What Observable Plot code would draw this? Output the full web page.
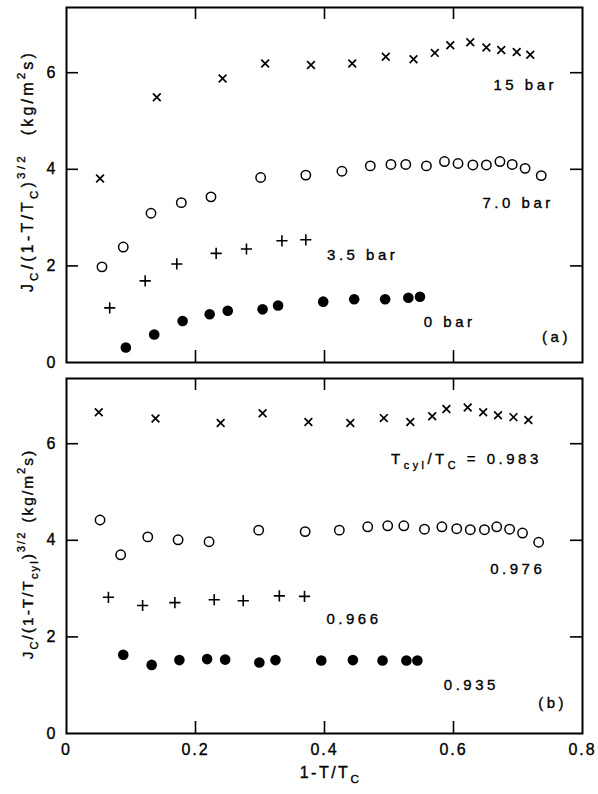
<!DOCTYPE html>
<html><head><meta charset="utf-8">
<script src="https://cdn.jsdelivr.net/npm/d3@7"></script>
<script src="https://cdn.jsdelivr.net/npm/@observablehq/plot@0.6"></script>
<style>
body{margin:0;background:#fff;}
#chart{width:598px;}
#chart svg{display:block;}
#chart svg text{letter-spacing:2px;stroke:black;stroke-width:0.35px;}
#chart svg text.lab{letter-spacing:3.5px;}
</style></head><body><div id="chart"></div>
<script>
// ---------- data: panel (a), J_c/(1-T/T_c)^{3/2} vs 1-T/T_c ----------
const a15x = [0.052,0.140,0.242,0.308,0.379,0.443,0.495,0.538,0.571,0.595,0.626,0.651,0.674,0.698,0.719];
const a15y = [3.81,5.49,5.88,6.19,6.16,6.19,6.33,6.28,6.41,6.57,6.63,6.52,6.47,6.43,6.37];
const a7x  = [0.055,0.088,0.131,0.178,0.224,0.301,0.371,0.427,0.471,0.503,0.526,0.558,0.586,0.607,0.630,0.651,0.672,0.691,0.711,0.736];
const a7y  = [1.98,2.39,3.09,3.31,3.43,3.83,3.88,3.96,4.07,4.10,4.10,4.07,4.16,4.12,4.09,4.09,4.16,4.10,4.02,3.87];
const a35x = [0.067,0.122,0.171,0.232,0.279,0.334,0.371];
const a35y = [1.13,1.69,2.04,2.26,2.35,2.52,2.54];
const a0x  = [0.092,0.136,0.180,0.222,0.250,0.304,0.328,0.398,0.446,0.494,0.530,0.548];
const a0y  = [0.31,0.58,0.86,1.00,1.07,1.10,1.18,1.26,1.31,1.31,1.34,1.36];
// ---------- data: panel (b), J_c/(1-T/T_cyl)^{3/2} vs 1-T/T_c ----------
const b983x = [0.050,0.138,0.239,0.304,0.375,0.440,0.492,0.533,0.567,0.589,0.622,0.646,0.669,0.693,0.716];
const b983y = [6.65,6.52,6.43,6.63,6.45,6.43,6.53,6.45,6.57,6.72,6.75,6.65,6.59,6.55,6.49];
const b976x = [0.052,0.084,0.126,0.173,0.221,0.298,0.370,0.423,0.467,0.498,0.523,0.555,0.582,0.605,0.626,0.648,0.667,0.687,0.707,0.732];
const b976y = [4.42,3.70,4.07,4.01,3.97,4.21,4.18,4.21,4.28,4.30,4.30,4.23,4.28,4.24,4.22,4.22,4.28,4.23,4.15,3.96];
const b966x = [0.065,0.118,0.168,0.229,0.274,0.330,0.369];
const b966y = [2.82,2.65,2.71,2.77,2.75,2.85,2.84];
const b935x = [0.088,0.132,0.175,0.218,0.246,0.299,0.324,0.395,0.444,0.490,0.527,0.544];
const b935y = [1.63,1.42,1.52,1.54,1.53,1.47,1.52,1.51,1.52,1.51,1.51,1.51];
// ---------- axes ----------
const xDomain = [0, 0.8];
const yDomain = [0, 7.35];
const xTickLabels = [0, 0.2, 0.4, 0.6, 0.8];
const xInnerTicks = [0.2, 0.4, 0.6];
const yTickLabels = [0, 2, 4, 6];
const yInnerTicks = [2, 4, 6];
// ---------- series labels ----------
const aLabels = [
  {x: 0.662, y: 5.75, t: "15 bar"},
  {x: 0.645, y: 3.30, t: "7.0 bar"},
  {x: 0.404, y: 2.23, t: "3.5 bar"},
  {x: 0.554, y: 0.84, t: "0 bar"}
];
const bLabels = [
  {x: 0.657, y: 3.41, t: "0.976"},
  {x: 0.403, y: 2.37, t: "0.966"},
  {x: 0.585, y: 1.01, t: "0.935"}
];

const zip = (xs, ys) => xs.map((x, i) => ({x, y: ys[i]}));
const W = 598, ML = 66, MR = 16, FW = W - ML - MR, FH = 355, TL = 12;
const FONT = "'Liberation Sans', Arial, Helvetica, sans-serif";

function panel({height, mt, mb, s15, s7, s35, s0, labels, panelTag, showX}) {
  return Plot.plot({
    width: W, height, marginTop: mt, marginBottom: mb, marginLeft: ML, marginRight: MR,
    style: {fontFamily: FONT, fontSize: "16px", color: "black", background: "white", overflow: "visible"},
    x: showX
      ? {domain: xDomain, ticks: xTickLabels, tickSize: 0, tickPadding: 10, label: null, tickFormat: d => d === 0 ? "0" : String(d)}
      : {domain: xDomain, axis: null},
    y: {domain: yDomain, ticks: yTickLabels, tickSize: 0, tickPadding: 9, label: null},
    marks: [
      Plot.frame({stroke: "black", strokeWidth: 2}),
      Plot.tickY(yInnerTicks, {y: d => d, insetRight: FW - TL, stroke: "black", strokeWidth: 1.6}),
      Plot.tickY(yInnerTicks, {y: d => d, insetLeft: FW - TL, stroke: "black", strokeWidth: 1.6}),
      Plot.tickX(xInnerTicks, {x: d => d, insetBottom: FH - TL, stroke: "black", strokeWidth: 1.6}),
      Plot.tickX(xInnerTicks, {x: d => d, insetTop: FH - TL, stroke: "black", strokeWidth: 1.6}),
      Plot.dot(zip(...s7), {x: "x", y: "y", symbol: "circle", r: 4.7, stroke: "black", fill: "none", strokeWidth: 1.5}),
      Plot.dot(zip(...s15), {x: "x", y: "y", symbol: "times", r: 3.6, stroke: "black", strokeWidth: 1.7}),
      Plot.dot(zip(...s35), {x: "x", y: "y", symbol: "plus", r: 3.7, stroke: "black", strokeWidth: 1.6}),
      Plot.dot(zip(...s0), {x: "x", y: "y", r: 5.3, fill: "black", stroke: "none"}),
      Plot.text(labels, {x: "x", y: "y", text: "t", textAnchor: "start", fontSize: 15, fill: "black", className: "lab"}),
      Plot.text([panelTag], {x: d => d.x, y: d => d.y, text: d => d.t, textAnchor: "end", fontSize: 15, fill: "black", className: "lab"})
    ]
  });
}

function rich(sel, parts, size) {
  let shift = 0;
  for (const [t, k, dx] of parts) {
    const target = k === "sub" ? 0.32 : k === "sup" ? -0.5 : 0;
    const ts = sel.append("tspan").text(t).attr("font-size", k ? size * 0.72 : size);
    const dy = (target - shift) * size;
    if (dy) ts.attr("dy", dy.toFixed(2));
    if (dx) ts.attr("dx", dx);
    shift = target;
  }
}

const plotA = panel({height: 370, mt: 7, mb: 8,
  s15: [a15x, a15y], s7: [a7x, a7y], s35: [a35x, a35y], s0: [a0x, a0y],
  labels: aLabels, panelTag: {x: 0.782, y: 0.53, t: "(a)"}, showX: false});
const plotB = panel({height: 424, mt: 8, mb: 61,
  s15: [b983x, b983y], s7: [b976x, b976y], s35: [b966x, b966y], s0: [b935x, b935y],
  labels: bLabels, panelTag: {x: 0.776, y: 0.62, t: "(b)"}, showX: true});

document.getElementById("chart").append(plotA, plotB);

// class fallback for text marks (older Plot versions ignore className)
for (const p of [plotA, plotB]) {
  d3.select(p).selectAll("g[aria-label='text'] text").classed("lab", true);
}

// y-axis titles
const ylabA = [["J"],["C","sub"],["/(1-T/T"],["C","sub"],[")"],["3/2","sup"],["(kg/m","",18],["2","sup"],["s)"]];
const ylabB = [["J"],["C","sub"],["/(1-T/T"],["cyl","sub"],[")"],["3/2","sup"],["(kg/m","",8],["2","sup"],["s)"]];
d3.select(plotA).append("text")
  .attr("transform", "translate(33,171) rotate(-90)").attr("text-anchor", "middle")
  .attr("fill", "black").style("letter-spacing", "3.2px").call(s => rich(s, ylabA, 16));
d3.select(plotB).append("text")
  .attr("transform", "translate(33,184) rotate(-90)").attr("text-anchor", "middle")
  .attr("fill", "black").style("letter-spacing", "2px").call(s => rich(s, ylabB, 15.5));

// Tcyl/Tc label in panel (b)
const bx = plotB.scale("x"), by = plotB.scale("y");
d3.select(plotB).append("text").attr("class", "lab")
  .attr("x", bx.apply(0.504)).attr("y", by.apply(5.68)).attr("dy", "0.32em")
  .attr("text-anchor", "start").attr("fill", "black").attr("xml:space", "preserve")
  .call(s => rich(s, [["T"],["cyl","sub"],["/T"],["C","sub"],[" = 0.983"]], 15));

// x-axis title
d3.select(plotB).append("text")
  .attr("x", bx.apply(0.41)).attr("y", 408).attr("text-anchor", "middle")
  .attr("fill", "black").style("letter-spacing", "2.5px").call(s => rich(s, [["1-T/T"],["C","sub"]], 16));
</script></body></html>
